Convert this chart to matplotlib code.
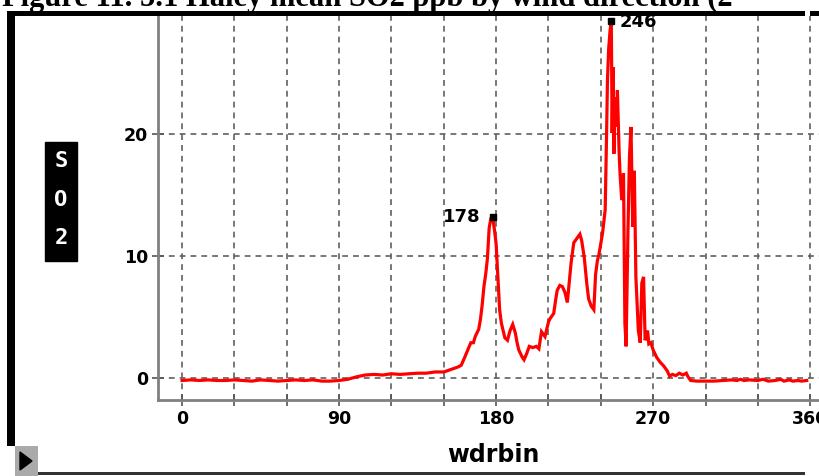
"""SO2 mean by wind direction bin, redrawn from a JMP-style screenshot."""

import matplotlib
matplotlib.use("Agg")
import matplotlib.pyplot as plt
from matplotlib.patches import Rectangle, Polygon

W, H = 820, 476

# wind direction bin (deg) and mean SO2 (ppb)
wdrbin = [
    0, 5, 10, 15, 20, 25, 30, 35, 40, 45, 50, 55, 60, 65, 70, 75, 80, 85, 90,
    95, 100, 105, 110, 115, 120, 125, 130, 135, 140, 145, 150, 155, 158, 160,
    162, 164, 165.5, 167, 168, 170, 171, 172, 173, 174, 175, 176, 177, 178,
    179, 180, 181, 182, 183, 184, 185, 186.5, 188, 189.5, 191, 192, 193, 195,
    196, 197.5, 199, 201, 203, 204.5, 206, 208, 210, 211, 213, 214, 215, 216.5,
    218, 219.5, 220.8, 222, 223, 224.5, 226, 228, 229, 230.5, 232, 233, 234.5,
    236, 237, 238, 239, 241, 242.5, 243.3, 243.8, 244.5, 245.3, 246, 246.5,
    247, 247.5, 248, 249, 249.5, 250.5, 251, 252, 253, 253.8, 254.5, 255.5,
    256.4, 257.3, 258.3, 259.2, 260.1, 261.5, 262.6, 263.5, 264.5, 265.4,
    266.8, 267.5, 268.7, 270, 272, 274, 276, 278, 279.5, 281, 283, 285, 287,
    289, 290, 291.5, 295, 300, 305, 310, 315, 318, 320, 322, 325, 330, 333,
    336, 340, 343, 345, 348, 350, 353, 355, 358,
]
so2 = [
    -0.2, -0.15, -0.2, -0.15, -0.2, -0.2, -0.15, -0.2, -0.25, -0.15, -0.2,
    -0.25, -0.2, -0.15, -0.2, -0.15, -0.25, -0.25, -0.2,
    -0.1, 0.1, 0.25, 0.3, 0.25, 0.35, 0.3, 0.35, 0.4, 0.4, 0.5, 0.5, 0.75, 0.9,
    1.05, 1.7, 2.4, 2.9, 2.9, 3.4, 4.0, 4.8, 6.0, 7.5, 8.5, 9.8, 12.3, 13.1,
    13.2, 12.2, 11.0, 8.3, 5.6, 4.5, 3.9, 3.3, 3.1, 3.9, 4.4, 3.7, 2.9, 2.3,
    1.7, 1.5, 2.0, 2.6, 2.5, 2.6, 2.4, 3.8, 3.4, 4.6, 4.9, 5.3, 6.3, 7.2, 7.6,
    7.5, 7.0, 6.2, 8.0, 9.5, 11.1, 11.4, 11.8, 11.3, 9.9, 7.7, 6.5, 5.9,
    5.6, 8.5, 9.6, 10.2, 11.9, 13.8, 20.0, 24.4, 27.0, 28.5, 29.3, 20.1,
    25.5, 18.4, 23.0, 20.6, 23.6, 18.5, 16.8, 14.6, 16.8, 4.5, 2.6, 11.6,
    18.1, 20.6, 12.4, 17.0, 8.3, 3.9, 2.9, 7.8, 8.3, 3.1,
    3.9, 2.8, 2.9, 2.3, 1.7, 1.3, 1.0, 0.6, 0.15, 0.3, 0.2, 0.4, 0.25,
    0.4, 0.1, -0.2, -0.25, -0.25, -0.25, -0.2, -0.15, -0.2, -0.1, -0.2,
    -0.15, -0.2, -0.1, -0.25, -0.2, -0.1, -0.25, -0.15, -0.25, -0.2, -0.25,
    -0.2,
]

peaks = [178, 246]
peak_vals = [13.2, 29.3]

xticks = list(range(0, 361, 30))
yticks = [0, 10, 20]

# only the lower half of the caption is inside the screenshot
title = "Figure 11. 5.1 Haley mean SO2 ppb by wind direction (2"

fig = plt.figure(figsize=(W / 100, H / 100), dpi=100)

# axes frame in pixels: left 158, bottom 400, top 16, right runs off the image
l, b, t, r = 158, 400, 16, 832
ax = fig.add_axes([l / W, (H - b) / H, (r - l) / W, (b - t) / H])

ax.plot(wdrbin, so2, color="#ff0000", lw=2.3, solid_joinstyle="miter")
ax.plot(peaks, peak_vals, "s", color="black", ms=5, zorder=5)
ax.annotate("178", (peaks[0], peak_vals[0]), xytext=(-9, 0),
            textcoords="offset points", ha="right", va="center",
            fontsize=13, fontweight="bold")
ax.annotate("246", (peaks[1], peak_vals[1]), xytext=(6, -1),
            textcoords="offset points", ha="left", va="center",
            fontsize=13, fontweight="bold")

ax.set_xlim(-13.8, 372.5)
ax.set_ylim(-1.8, 29.7)

ax.set_xticks(xticks)
ax.set_xticklabels([str(v) if v % 90 == 0 else "" for v in xticks])
ax.set_yticks(yticks)
ax.tick_params(axis="both", direction="inout", length=8, width=1.2,
               color="#555555", labelsize=12.5, pad=3)
for lab in ax.get_xticklabels() + ax.get_yticklabels():
    lab.set_fontweight("bold")

ax.grid(True, color="#606060", lw=1.2, ls=(0, (3.5, 3)))
ax.set_axisbelow(True)

for side in ("top", "right"):
    ax.spines[side].set_visible(False)
for side in ("left", "bottom"):
    ax.spines[side].set_color("#808080")
    ax.spines[side].set_linewidth(2)

fig.text(493 / W, 1 - 455 / H, "wdrbin", ha="center", va="center",
         fontsize=17, fontweight="bold")

# vertical "S O 2" badge
fig.patches.append(Rectangle((45 / W, 1 - 261 / H), 32 / W, 119 / H,
                             transform=fig.transFigure, color="black"))
for ch, yp in zip("SO2", [161, 200, 238]):
    fig.text(61 / W, 1 - yp / H, ch, ha="center", va="center", color="white",
             fontsize=16, fontweight="bold", family="DejaVu Sans Mono")

# window chrome around the report
def px_rect(x0, y0, x1, y1, color="black"):
    fig.patches.append(Rectangle((x0 / W, 1 - y1 / H), (x1 - x0) / W,
                                 (y1 - y0) / H, transform=fig.transFigure,
                                 color=color, lw=0))

px_rect(7, 11, 805, 16)
px_rect(810, 11, 820, 16)
px_rect(7, 11, 15, 446)
px_rect(38, 472, 805, 475, color="#333333")
px_rect(15, 446, 38, 476, color="#aaaaaa")
fig.patches.append(Polygon([(20 / W, 1 - 452 / H), (20 / W, 1 - 470 / H),
                            (32 / W, 1 - 461 / H)], closed=True,
                           transform=fig.transFigure, color="black"))

fig.text(2 / W, 1 - 6 / H, title, ha="left", va="baseline", fontsize=22,
         fontweight="bold", family="Liberation Serif", zorder=0)

fig.savefig("out.png", dpi=100)
